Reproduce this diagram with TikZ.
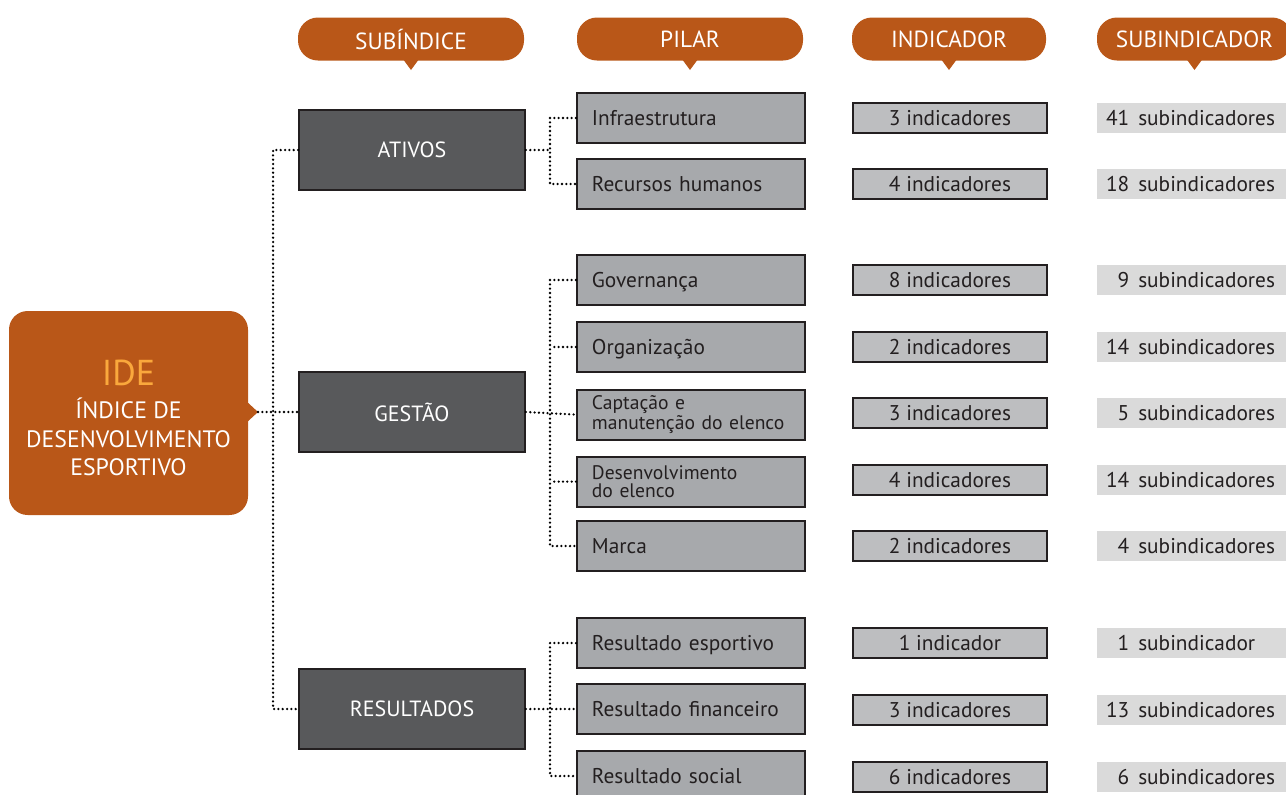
\documentclass[tikz,border=0pt]{standalone}
\usepackage{fontspec}
\setmainfont{PT Sans}
\definecolor{ora}{RGB}{185,87,24}
\definecolor{idey}{RGB}{250,168,60}
\definecolor{dk}{RGB}{88,89,91}
\definecolor{pil}{RGB}{167,169,172}
\definecolor{ind}{RGB}{189,190,192}
\definecolor{sub}{RGB}{218,218,218}
\definecolor{edge}{RGB}{35,31,32}
\definecolor{txt}{RGB}{35,31,32}
\tikzset{
  hdr/.style={fill=ora,rounded corners=15pt,minimum height=32.25pt,inner sep=0pt,text=white,font=\fontsize{17.5}{19}\selectfont},
  subidx/.style={fill=dk,draw=edge,line width=1.4pt,minimum width=169.5pt,minimum height=60pt,inner sep=0pt,text=white,font=\fontsize{16.5}{18}\selectfont},
  pilbox/.style={fill=pil,draw=edge,line width=1.4pt,minimum width=171pt,minimum height=37.5pt,inner xsep=11.25pt,inner ysep=0pt,text width=148.5pt,align=left,text=txt,font=\fontsize{16}{13.5}\selectfont,anchor=west},
  one/.style={text height=14pt,text depth=3.5pt},
  twoline/.style={font=\fontsize{14.7}{13.5}\selectfont,yshift=-1.2pt},
  indbox/.style={fill=ind,draw=edge,line width=1.4pt,minimum width=145.5pt,minimum height=23pt,inner sep=0pt,text=txt,font=\fontsize{16}{17}\selectfont},
  subbox/.style={fill=sub,minimum width=146pt,minimum height=22pt,inner sep=0pt,text=txt,anchor=west,font=\fontsize{16}{17}\selectfont},
  dot/.style={line width=1.9pt,dash pattern=on 0pt off 3.25pt,line cap=round,draw=black},
}
\newcommand{\sn}[2]{\makebox[24pt][r]{#1}\hspace{6.75pt}#2\hfill}
\begin{document}
\begin{tikzpicture}[x=0.75pt,y=-0.75pt]
\useasboundingbox (0,0) rectangle (1286,794);
% headers
\foreach \cx/\w/\t [count=\i] in {411/226/SUBÍNDICE,690/226/PILAR,949/194/INDICADOR,1194.5/195/SUBINDICADOR}{
  \fill[ora] (\cx-11,55) -- (\cx+11,55) -- (\cx,70) -- cycle;
  \node[hdr,minimum width=\w*0.75pt] (h\i) at (\cx,39) {\t};
}
% IDE
\fill[ora] (245,400) -- (258,412) -- (245,424) -- cycle;
\node[fill=ora,rounded corners=14pt,minimum width=179.25pt,minimum height=153pt,inner sep=0pt] (ide) at (128.5,413) {};
\node[text=white,inner sep=0pt] (idetext) at (128.5,422)
  {\fontsize{17.8}{21.5}\selectfont\begin{tabular}{@{}c@{}}\fontsize{27}{30}\selectfont\color{idey}IDE\\[3pt]
   ÍNDICE DE\\
   DESENVOLVIMENTO\\
   ESPORTIVO\end{tabular}};
\coordinate (idetip) at (258,412);
% subindices
\node[subidx] (ativos) at (412,150) {ATIVOS};
\node[subidx] (gestao) at (412,412) {GESTÃO};
\node[subidx] (result) at (412,709) {RESULTADOS};
% pillars
\node[pilbox,one] (p1) at (576,118) {Infraestrutura};
\node[pilbox,one] (p2) at (576,184) {Recursos humanos};
\node[pilbox,one] (p3) at (576,280) {Governança};
\node[pilbox,one] (p4) at (576,347) {Organização};
\node[pilbox,twoline] (p5) at (576,413) {Captação e\\manutenção do elenco};
\node[pilbox,twoline] (p6) at (576,480) {Desenvolvimento\\do elenco};
\node[pilbox,one] (p7) at (576,546) {Marca};
\node[pilbox,one] (p8) at (576,643) {Resultado esportivo};
\node[pilbox,one] (p9) at (576,709) {Resultado financeiro};
\node[pilbox,one] (p10) at (576,776) {Resultado social};
% indicators
\foreach \y/\t [count=\i] in {118/3 indicadores,184/4 indicadores,280/8 indicadores,347/2 indicadores,413/3 indicadores,480/4 indicadores,546/2 indicadores,643/1 indicador,710/3 indicadores,777/6 indicadores}{
  \node[indbox] (i\i) at (950,\y) {\t};
}
% subindicators
\foreach \y/\n/\t [count=\i] in {118/41/subindicadores,184/18/subindicadores,280/9/subindicadores,347/14/subindicadores,413/5/subindicadores,480/14/subindicadores,546/4/subindicadores,643/1/subindicador,710/13/subindicadores,777/6/subindicadores}{
  \node[subbox,text width=146pt] (s\i) at (1097,\y) {\sn{\n}{\t}};
}
% connectors
\draw[dot] (idetip) -- (gestao.west);
\draw[dot] (ativos.west) -- ++(-25,0) |- (result.west);
\draw[dot] (p1.west) -- ++(-26,0) |- (p2.west);
\draw[dot] (ativos.east) -- ++(25,0);
\draw[dot] (p3.west) -- ++(-26,0) |- (p7.west);
\draw[dot] (p4.west) -- ++(-26,0);
\draw[dot] (p6.west) -- ++(-26,0);
\draw[dot] (gestao.east) -- (p5.west);
\draw[dot] (p8.west) -- ++(-26,0) |- (p10.west);
\draw[dot] (result.east) -- (p9.west);
\end{tikzpicture}
\end{document}
